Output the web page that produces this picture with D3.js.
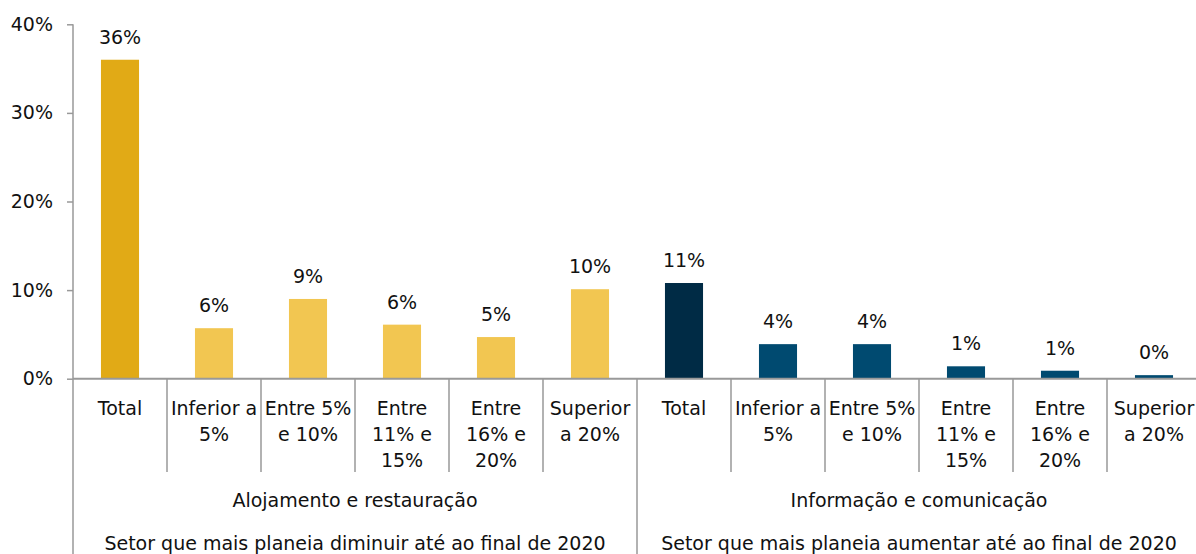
<!DOCTYPE html>
<html>
<head>
<meta charset="utf-8">
<script src="https://cdn.jsdelivr.net/npm/d3@7"></script>
<style>
  body { margin: 0; background: #fff; }
  text { font-family: "DejaVu Sans", Verdana, sans-serif; fill: #111; }
</style>
</head>
<body>
<script>
// ---- data ----
var categories = [
  'Total', 'Inferior a\n5%', 'Entre 5%\ne 10%', 'Entre\n11% e\n15%', 'Entre\n16% e\n20%', 'Superior\na 20%',
  'Total', 'Inferior a\n5%', 'Entre 5%\ne 10%', 'Entre\n11% e\n15%', 'Entre\n16% e\n20%', 'Superior\na 20%'
];
var values = [36.0, 5.7, 9.0, 6.1, 4.7, 10.1, 10.8, 3.9, 3.9, 1.4, 0.9, 0.4];
var valueLabels = ['36%', '6%', '9%', '6%', '5%', '10%', '11%', '4%', '4%', '1%', '1%', '0%'];
var groups = ['Alojamento e restauração', 'Informação e comunicação'];
var groupNotes = ['Setor que mais planeia diminuir até ao final de 2020', 'Setor que mais planeia aumentar até ao final de 2020'];
var barColors = ['#E1AA16', '#F2C651', '#F2C651', '#F2C651', '#F2C651', '#F2C651',
                 '#002B45', '#004A70', '#004A70', '#004A70', '#004A70', '#004A70'];
var yTicks = [0, 10, 20, 30, 40];

var W = 1196, H = 554;
var LEFT = 73, RIGHT = 1201, TOP = 24.3, BASE = 378.7;
var FONT = 19;
var AXIS = '#999';

var svg = d3.select('body').append('svg')
  .attr('width', W)
  .attr('height', H);

var idx = d3.range(categories.length);

// slots (one per category) and the bars inside them
var slot = d3.scaleBand().domain(idx).range([LEFT, RIGHT]).padding(0);
var x = d3.scaleBand().domain(idx).range([LEFT, RIGHT]).paddingInner(0.595).paddingOuter(0.2975);
var y = d3.scaleLinear().domain([0, 40]).range([BASE, TOP]);

// ---- y axis ----
var yAxis = svg.append('g')
  .attr('transform', 'translate(' + LEFT + ',0)')
  .call(d3.axisLeft(y).tickValues(yTicks).tickFormat(function(d) { return d + '%'; })
    .tickSize(6).tickPadding(14).tickSizeOuter(0));
yAxis.select('.domain').remove();
yAxis.selectAll('line').attr('stroke', AXIS).attr('stroke-width', 1.5);
yAxis.selectAll('text')
  .style('font-family', '"DejaVu Sans", Verdana, sans-serif')
  .style('font-size', FONT + 'px')
  .attr('fill', '#111');

// left axis line runs all the way to bottom
svg.append('line')
  .attr('x1', LEFT).attr('x2', LEFT)
  .attr('y1', y(40)).attr('y2', H)
  .attr('stroke', AXIS).attr('stroke-width', 1.5);

// ---- bars ----
svg.selectAll('rect.bar')
  .data(values)
  .enter()
  .append('rect')
  .attr('class', 'bar')
  .attr('x', function(d, i) { return x(i); })
  .attr('width', x.bandwidth())
  .attr('y', function(d) { return y(d); })
  .attr('height', function(d) { return y(0) - y(d); })
  .attr('fill', function(d, i) { return barColors[i]; });

// value labels
svg.selectAll('text.val')
  .data(values)
  .enter()
  .append('text')
  .attr('class', 'val')
  .attr('x', function(d, i) { return x(i) + x.bandwidth() / 2; })
  .attr('y', function(d) { return y(d) - 16; })
  .attr('text-anchor', 'middle')
  .style('font-size', FONT + 'px')
  .text(function(d, i) { return valueLabels[i]; });

// ---- x axis ----
svg.append('line')
  .attr('x1', LEFT).attr('x2', RIGHT)
  .attr('y1', y(0)).attr('y2', y(0))
  .attr('stroke', AXIS).attr('stroke-width', 2);

// separators between categories; between groups it goes to the bottom
idx.slice(1).forEach(function(i) {
  var gx = slot(i);
  svg.append('line')
    .attr('x1', gx).attr('x2', gx)
    .attr('y1', y(0)).attr('y2', i === 6 ? H : 472)
    .attr('stroke', AXIS).attr('stroke-width', 1.5);
});

// category labels (wrapped)
var cat = svg.selectAll('text.cat')
  .data(categories)
  .enter()
  .append('text')
  .attr('class', 'cat')
  .attr('text-anchor', 'middle')
  .style('font-size', FONT + 'px')
  .attr('transform', function(d, i) {
    return 'translate(' + (slot(i) + slot.bandwidth() / 2) + ',415)';
  });
cat.selectAll('tspan')
  .data(function(d) { return d.split('\n'); })
  .enter()
  .append('tspan')
  .attr('x', 0)
  .attr('dy', function(d, j) { return j === 0 ? 0 : 26; })
  .text(function(d) { return d; });

// group labels and notes
var half = (RIGHT - LEFT) / 2;
groups.forEach(function(g, k) {
  var cx = LEFT + half * k + half / 2;
  svg.append('text')
    .attr('x', cx).attr('y', 507)
    .attr('text-anchor', 'middle')
    .style('font-size', FONT + 'px')
    .text(g);
  svg.append('text')
    .attr('x', cx).attr('y', 550)
    .attr('text-anchor', 'middle')
    .style('font-size', FONT + 'px')
    .text(groupNotes[k]);
});
</script>
</body>
</html>
